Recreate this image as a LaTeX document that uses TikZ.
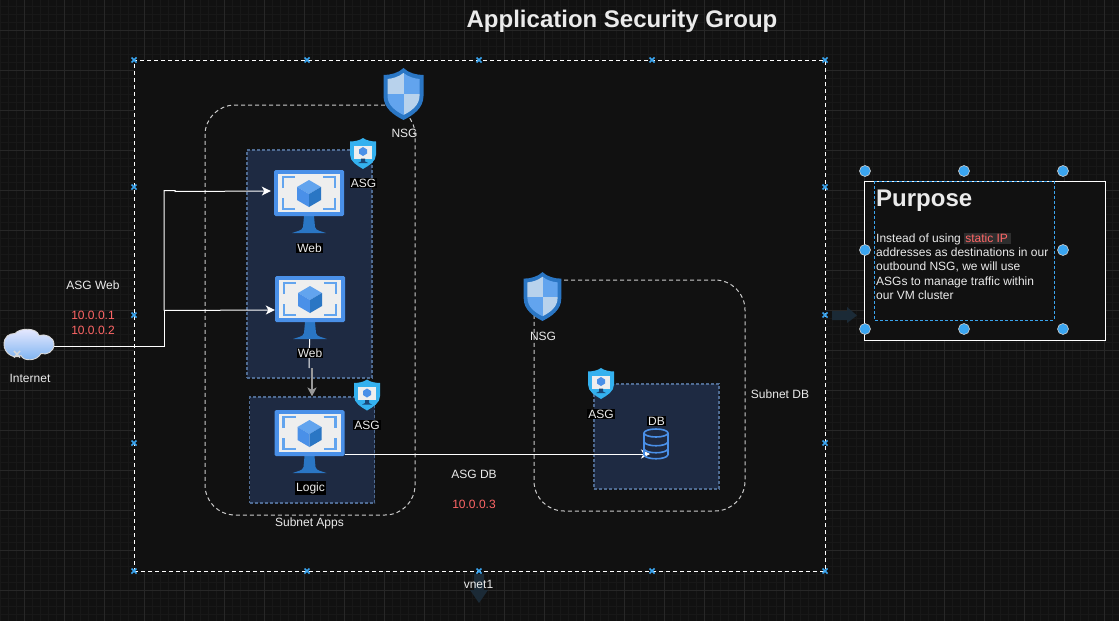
\documentclass[tikz,border=0pt]{standalone}
\usepackage{fontspec}
\setmainfont{Liberation Sans}
\usetikzlibrary{arrows.meta}
\definecolor{canvas}{HTML}{111111}
\definecolor{gridmajor}{HTML}{272727}
\definecolor{gridminor}{HTML}{181818}
\definecolor{groupfill}{HTML}{1E2A42}
\definecolor{groupline}{HTML}{4F6B92}
\definecolor{handle}{HTML}{3AA5F0}
\definecolor{addr}{HTML}{FF6666}
\definecolor{hint}{HTML}{1B2A36}
\definecolor{azure}{HTML}{4A90E8}
\definecolor{azuredark}{HTML}{2A76C4}
\definecolor{azurelight}{HTML}{62A4EE}
\definecolor{screen}{HTML}{EEEEEE}
\definecolor{paleblue}{HTML}{B8D2EC}
\tikzstyle{vnetbox}=[draw=white, fill=canvas, dash pattern=on 4pt off 3pt, line width=1pt, inner sep=0]
\tikzstyle{subnetbox}=[draw=white!80!black, dash pattern=on 4pt off 3pt, line width=1pt, rounded corners=30pt, inner sep=0]
\tikzstyle{groupbox}=[draw=groupline, fill=groupfill, dash pattern=on 3pt off 2pt, line width=1.1pt, inner sep=0]
\tikzstyle{iconbox}=[inner sep=0, minimum width=70pt, minimum height=46pt]
\tikzstyle{wire}=[draw=white, line width=1pt]
\tikzstyle{flow}=[wire, -{Stealth[length=9pt,width=9pt,inset=2.5pt]}]
\tikzstyle{label}=[text=white!92!black, font=\fontsize{12}{14}\selectfont, inner sep=1pt]
\tikzstyle{iconlabel}=[label, fill=black]
\tikzstyle{addrlabel}=[label, text=addr]
\tikzstyle{hintarrow}=[fill=hint, draw=none]
\tikzstyle{grip}=[fill=handle, draw=white!80!black, line width=0.6pt]
\tikzset{
vmicon/.pic={
\fill[azuredark] (-5,23)--(5,23)--(6,34) .. controls (7,38) and (12,38) .. (17,40)--(-17,40) .. controls (-12,38) and (-7,38) .. (-6,34)--cycle;
\fill[azure, rounded corners=1.5pt] (-35,-23) rectangle (35,23);
\fill[screen] (-31,-19) rectangle (31,19);
\draw[azurelight, line width=2.2pt] (-26,-5)--(-26,-16)--(-14,-16) (14,-16)--(26,-16)--(26,-5) (26,5)--(26,16)--(14,16) (-14,16)--(-26,16)--(-26,5);
\fill[azurelight] (0,-13)--(12,-6)--(0,1)--(-12,-6)--cycle;
\fill[azure] (-12,-6)--(0,1)--(0,14)--(-12,7)--cycle;
\fill[azuredark] (12,-6)--(0,1)--(0,14)--(12,7)--cycle;
},
nsgicon/.pic={
\fill[azuredark] (0,-26) .. controls (5,-21) and (13,-19) .. (20,-19)--(20,2) .. controls (20,14) and (10,21) .. (0,26) .. controls (-10,21) and (-20,14) .. (-20,2)--(-20,-19) .. controls (-13,-19) and (-5,-21) .. (0,-26)--cycle;
\begin{scope}
\clip (0,-21) .. controls (5,-17) and (11,-15.5) .. (16,-15)--(16,2) .. controls (16,11) and (8,17) .. (0,21) .. controls (-8,17) and (-16,11) .. (-16,2)--(-16,-15) .. controls (-11,-15.5) and (-5,-17) .. (0,-21)--cycle;
\fill[paleblue] (-20,-26) rectangle (0,0);
\fill[azurelight] (0,-26) rectangle (20,0);
\fill[azurelight] (-20,0) rectangle (0,26);
\fill[paleblue] (0,0) rectangle (20,26);
\end{scope}
},
asgicon/.pic={
\fill[azure!70!cyan] (0,-15.5) .. controls (3,-13) and (9,-12) .. (13,-12)--(13,1) .. controls (13,8) and (6,12) .. (0,15.5) .. controls (-6,12) and (-13,8) .. (-13,1)--(-13,-12) .. controls (-9,-12) and (-3,-13) .. (0,-15.5)--cycle;
\fill[screen] (-9,-8) rectangle (9,5);
\fill[azure] (0,-6.5)--(4,-4)--(4,0)--(0,2.5)--(-4,0)--(-4,-4)--cycle;
\fill[azuredark!60!black] (-2,5)--(2,5)--(2,8)--(5,9.5)--(-5,9.5)--(-2,8)--cycle;
},
dbicon/.pic={
\draw[azure, line width=1.6pt] (-12,-11)--(-12,11) (12,-11)--(12,11);
\draw[azure, line width=1.6pt] (0,-11) ellipse (12 and 4);
\draw[azure, line width=1.6pt] (-12,-2) .. controls (-10,3) and (10,3) .. (12,-2);
\draw[azure, line width=1.6pt] (-12,5) .. controls (-10,10) and (10,10) .. (12,5);
\draw[azure, line width=1.6pt] (-12,11) .. controls (-10,16) and (10,16) .. (12,11);
},
cloudicon/.pic={
\draw[draw=white!85!black, line width=0.9pt, top color=white!92!blue, bottom color=azurelight!85!white] (-25,0) .. controls (-25,-8) and (-20,-11) .. (-14,-11) .. controls (-9,-17) and (8,-17) .. (10,-9) .. controls (16,-11) and (25,-8) .. (25,0) .. controls (25,7) and (18,11) .. (12,9) .. controls (8,17) and (-6,17) .. (-8,11) .. controls (-15,15) and (-25,9) .. (-25,0)--cycle;
\draw[white!85!black, line width=1.5pt] (-15,6.5)--(-9,13) (-9,6.5)--(-15,13);
}
}
\begin{document}
\begin{tikzpicture}[x=1pt,y=-1pt]
\useasboundingbox (0,0) rectangle (1119,621);
\fill[canvas] (0,0) rectangle (1119,621);
\foreach \gx in {0,8,...,1119} \draw[gridminor, line width=0.5pt] (\gx,0)--(\gx,621);
\foreach \gy in {6,14,...,621} \draw[gridminor, line width=0.5pt] (0,\gy)--(1119,\gy);
\foreach \gx in {24,64,...,1119} \draw[gridmajor, line width=0.8pt] (\gx,0)--(\gx,621);
\foreach \gy in {30,70,...,621} \draw[gridmajor, line width=0.8pt] (0,\gy)--(1119,\gy);
\node[label, font=\bfseries\fontsize{24}{28}\selectfont] (title) at (622,21) {Application Security Group};
\node[vnetbox, minimum width=691pt, minimum height=511pt] (vnet) at (479.5,315.5) {};
\foreach \mx in {134,307,479,652,825} \foreach \my in {60,571} \draw[handle, line width=1.5pt] (\mx-2.5,\my-2.5)--(\mx+2.5,\my+2.5) (\mx-2.5,\my+2.5)--(\mx+2.5,\my-2.5);
\foreach \mx in {134,825} \foreach \my in {187,315,443} \draw[handle, line width=1.5pt] (\mx-2.5,\my-2.5)--(\mx+2.5,\my+2.5) (\mx-2.5,\my+2.5)--(\mx+2.5,\my-2.5);
\fill[hintarrow] (470,590)--(474,590)--(474,574)--(484,574)--(484,590)--(488,590)--(479,603)--cycle;
\fill[hintarrow] (832,311)--(847,311)--(847,307)--(857,315.5)--(847,323)--(847,320)--(832,320)--cycle;
\node[subnetbox, minimum width=210pt, minimum height=410pt] (subnetapps) at (310,310) {};
\node[subnetbox, minimum width=211pt, minimum height=231pt] (subnetdb) at (639.5,395.5) {};
\node[groupbox, minimum width=125pt, minimum height=228pt] (webbox) at (309.5,264) {};
\node[groupbox, minimum width=125pt, minimum height=106pt] (logicbox) at (312,450) {};
\node[groupbox, minimum width=125pt, minimum height=105pt] (dbbox) at (656.5,436.5) {};
\node[iconbox] (web1) at (309,193) {};
\node[iconbox] (web2) at (310,299) {};
\node[iconbox] (logic) at (309.5,433) {};
\node[inner sep=0, minimum width=26pt, minimum height=30pt] (db) at (656,444) {};
\node[inner sep=0, minimum width=50pt, minimum height=31pt] (internet) at (29,346) {};
\coordinate (trunk) at (164,310.5);
\coordinate (jog) at (175,190.5);
\coordinate (bend) at (309,368);
\draw[wire] (internet.east) -- (trunk |- internet.east) -- (trunk);
\draw[flow, shorten >=3pt] (trunk) -- (trunk |- jog) -- (jog) -- ++(0,1) -- ([yshift=2pt]web1.west);
\draw[flow] (trunk) -- ([yshift=-11pt]web2.west);
\draw[wire] (web2.south) -- (bend);
\draw[flow, draw=white!60!black, line width=1.6pt] (logicbox.north |- bend) -- (logicbox.north);
\draw[flow] ([yshift=-21pt]logic.east) -- ([xshift=-6pt,yshift=-10pt]db.center);
\pic at (29,344.5) {cloudicon};
\pic at (web1) {vmicon};
\pic at (web2) {vmicon};
\pic at (logic) {vmicon};
\pic at (db) {dbicon};
\pic at (403.5,94) {nsgicon};
\pic[scale=0.94] at (542.5,296.5) {nsgicon};
\pic at (363,153.5) {asgicon};
\pic at (367,395) {asgicon};
\pic at (601,383.5) {asgicon};
\node[iconlabel] (webname1) at (309.5,248) {Web};
\node[iconlabel] (webname2) at (310,353) {Web};
\node[iconlabel] (logicname) at (310.5,488) {Logic};
\node[iconlabel] (dbname) at (656.5,421) {DB};
\node[iconlabel] (asgname1) at (363.5,183) {ASG};
\node[iconlabel] (asgname2) at (367,425) {ASG};
\node[iconlabel] (asgname3) at (601,414) {ASG};
\node[label] (nsgname1) at (404.5,133.5) {NSG};
\node[label] (nsgname2) at (543,336) {NSG};
\node[label] (appsname) at (309.5,523) {Subnet Apps};
\node[label] (dbnetname) at (780,394) {Subnet DB};
\node[label] (asgweb) at (93,285) {ASG Web};
\node[addrlabel] (addr1) at (93,315) {10.0.0.1};
\node[addrlabel] (addr2) at (93,330) {10.0.0.2};
\node[label] (asgdb) at (474,474) {ASG DB};
\node[addrlabel] (addr3) at (474,504) {10.0.0.3};
\node[label] (internetname) at (30,378) {Internet};
\node[label] (vnetname) at (478.5,584) {vnet1};
\node[draw=white, fill=canvas, line width=1pt, inner sep=0, minimum width=241pt, minimum height=159pt] (purposebox) at (984.5,260.5) {};
\draw[handle, dash pattern=on 3pt off 2pt, line width=0.9pt] (874,181) rectangle (1054,320);
\foreach \hx in {865,964,1063} \foreach \hy in {171,329} \fill[grip] (\hx,\hy) circle (5.5);
\foreach \hx in {865,1063} \fill[grip] (\hx,250) circle (5.5);
\node[label, anchor=west, font=\bfseries\fontsize{24}{28}\selectfont] (purposetitle) at (875,201) {Purpose};
\setlength{\fboxsep}{1pt}
\node[label, anchor=north west, align=left, font=\fontsize{12}{14.3}\selectfont] (purposetext) at (875,231.5) {Instead of using \colorbox{white!18!black}{\textcolor{addr}{static IP\,}}\\addresses as destinations in our\\outbound NSG, we will use\\ASGs to manage traffic within\\our VM cluster};
\end{tikzpicture}
\end{document}
